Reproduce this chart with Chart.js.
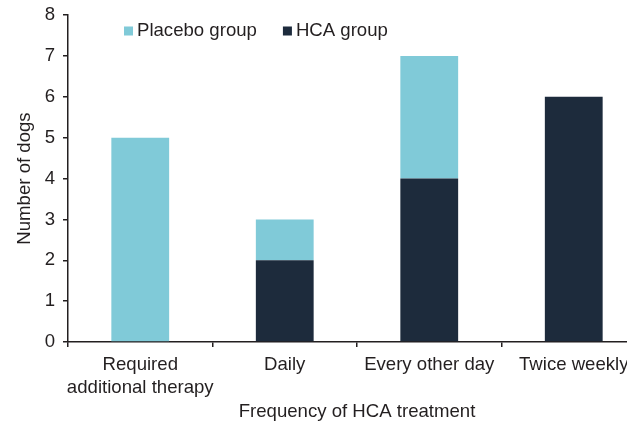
<!DOCTYPE html>
<html>
<head>
<meta charset="utf-8">
<script src="https://cdn.jsdelivr.net/npm/chart.js@4.4.0/dist/chart.umd.min.js"></script>
<style>
  html, body { margin: 0; padding: 0; background: #fff; overflow: hidden; }
  #clip { width: 627px; height: 425px; overflow: hidden; }
  #wrap { width: 660px; height: 425px; }
</style>
</head>
<body>
<div id="clip"><div id="wrap"><canvas id="chart"></canvas></div></div>
<script>
  const categories = [["Required", "additional therapy"], "Daily", "Every other day", "Twice weekly"];
  const hcaGroup = [0, 2, 4, 6];
  const placeboGroup = [5, 1, 3, 0];
  const yMax = 8;

  const textColor = "#231f20";
  const fontFamily = "'Liberation Sans', Arial, Helvetica, sans-serif";
  const fontSize = 18.6;

  // legend sits inside the plot, top left, placebo first
  const floatingLegend = {
    id: "floatingLegend",
    afterDraw(chart) {
      const { ctx, chartArea } = chart;
      const items = chart.data.datasets.slice().reverse();
      let x = chartArea.left + 56;
      const y = chartArea.top + 16;
      ctx.save();
      ctx.font = fontSize + "px " + fontFamily;
      ctx.textBaseline = "middle";
      ctx.textAlign = "left";
      items.forEach((ds) => {
        ctx.fillStyle = ds.backgroundColor;
        ctx.fillRect(x, y - 4.5, 9, 9);
        ctx.fillStyle = textColor;
        ctx.fillText(ds.label, x + 13, y);
        x += 13 + ctx.measureText(ds.label).width + 26;
      });
      ctx.restore();
    },
  };

  new Chart(document.getElementById("chart"), {
    type: "bar",
    data: {
      labels: categories,
      datasets: [
        {
          label: "HCA group",
          data: hcaGroup,
          backgroundColor: "#1d2b3c",
          barPercentage: 0.4,
          categoryPercentage: 1,
        },
        {
          label: "Placebo group",
          data: placeboGroup,
          backgroundColor: "#80cad8",
          barPercentage: 0.4,
          categoryPercentage: 1,
        },
      ],
    },
    options: {
      responsive: true,
      maintainAspectRatio: false,
      animation: false,
      layout: { padding: { left: 0, top: 15, right: 14, bottom: 0 } },
      plugins: {
        legend: { display: false },
        tooltip: { enabled: false },
      },
      scales: {
        x: {
          stacked: true,
          grid: { drawOnChartArea: false, drawTicks: true, tickLength: 5, color: textColor, lineWidth: 1.5 },
          border: { color: textColor, width: 1.5 },
          ticks: {
            color: textColor,
            font: { family: fontFamily, size: fontSize, lineHeight: 1.25 },
            padding: 6,
            maxRotation: 0,
            autoSkip: false,
          },
          title: {
            display: true,
            text: "Frequency of HCA treatment",
            color: textColor,
            font: { family: fontFamily, size: fontSize },
            padding: { top: 0, bottom: 2 },
          },
          afterFit: (scale) => { scale.height = 83; },
        },
        y: {
          stacked: true,
          min: 0,
          max: yMax,
          grid: { drawOnChartArea: false, drawTicks: true, tickLength: 5, color: textColor, lineWidth: 1.5 },
          border: { color: textColor, width: 1.5 },
          ticks: {
            stepSize: 1,
            color: textColor,
            font: { family: fontFamily, size: fontSize, lineHeight: 0.75 },
            padding: 8,
          },
          title: {
            display: true,
            text: "Number of dogs",
            color: textColor,
            font: { family: fontFamily, size: fontSize },
            padding: { top: 14, bottom: 0 },
          },
          afterFit: (scale) => { scale.width = 68; },
        },
      },
    },
    plugins: [floatingLegend],
  });
</script>
</body>
</html>
